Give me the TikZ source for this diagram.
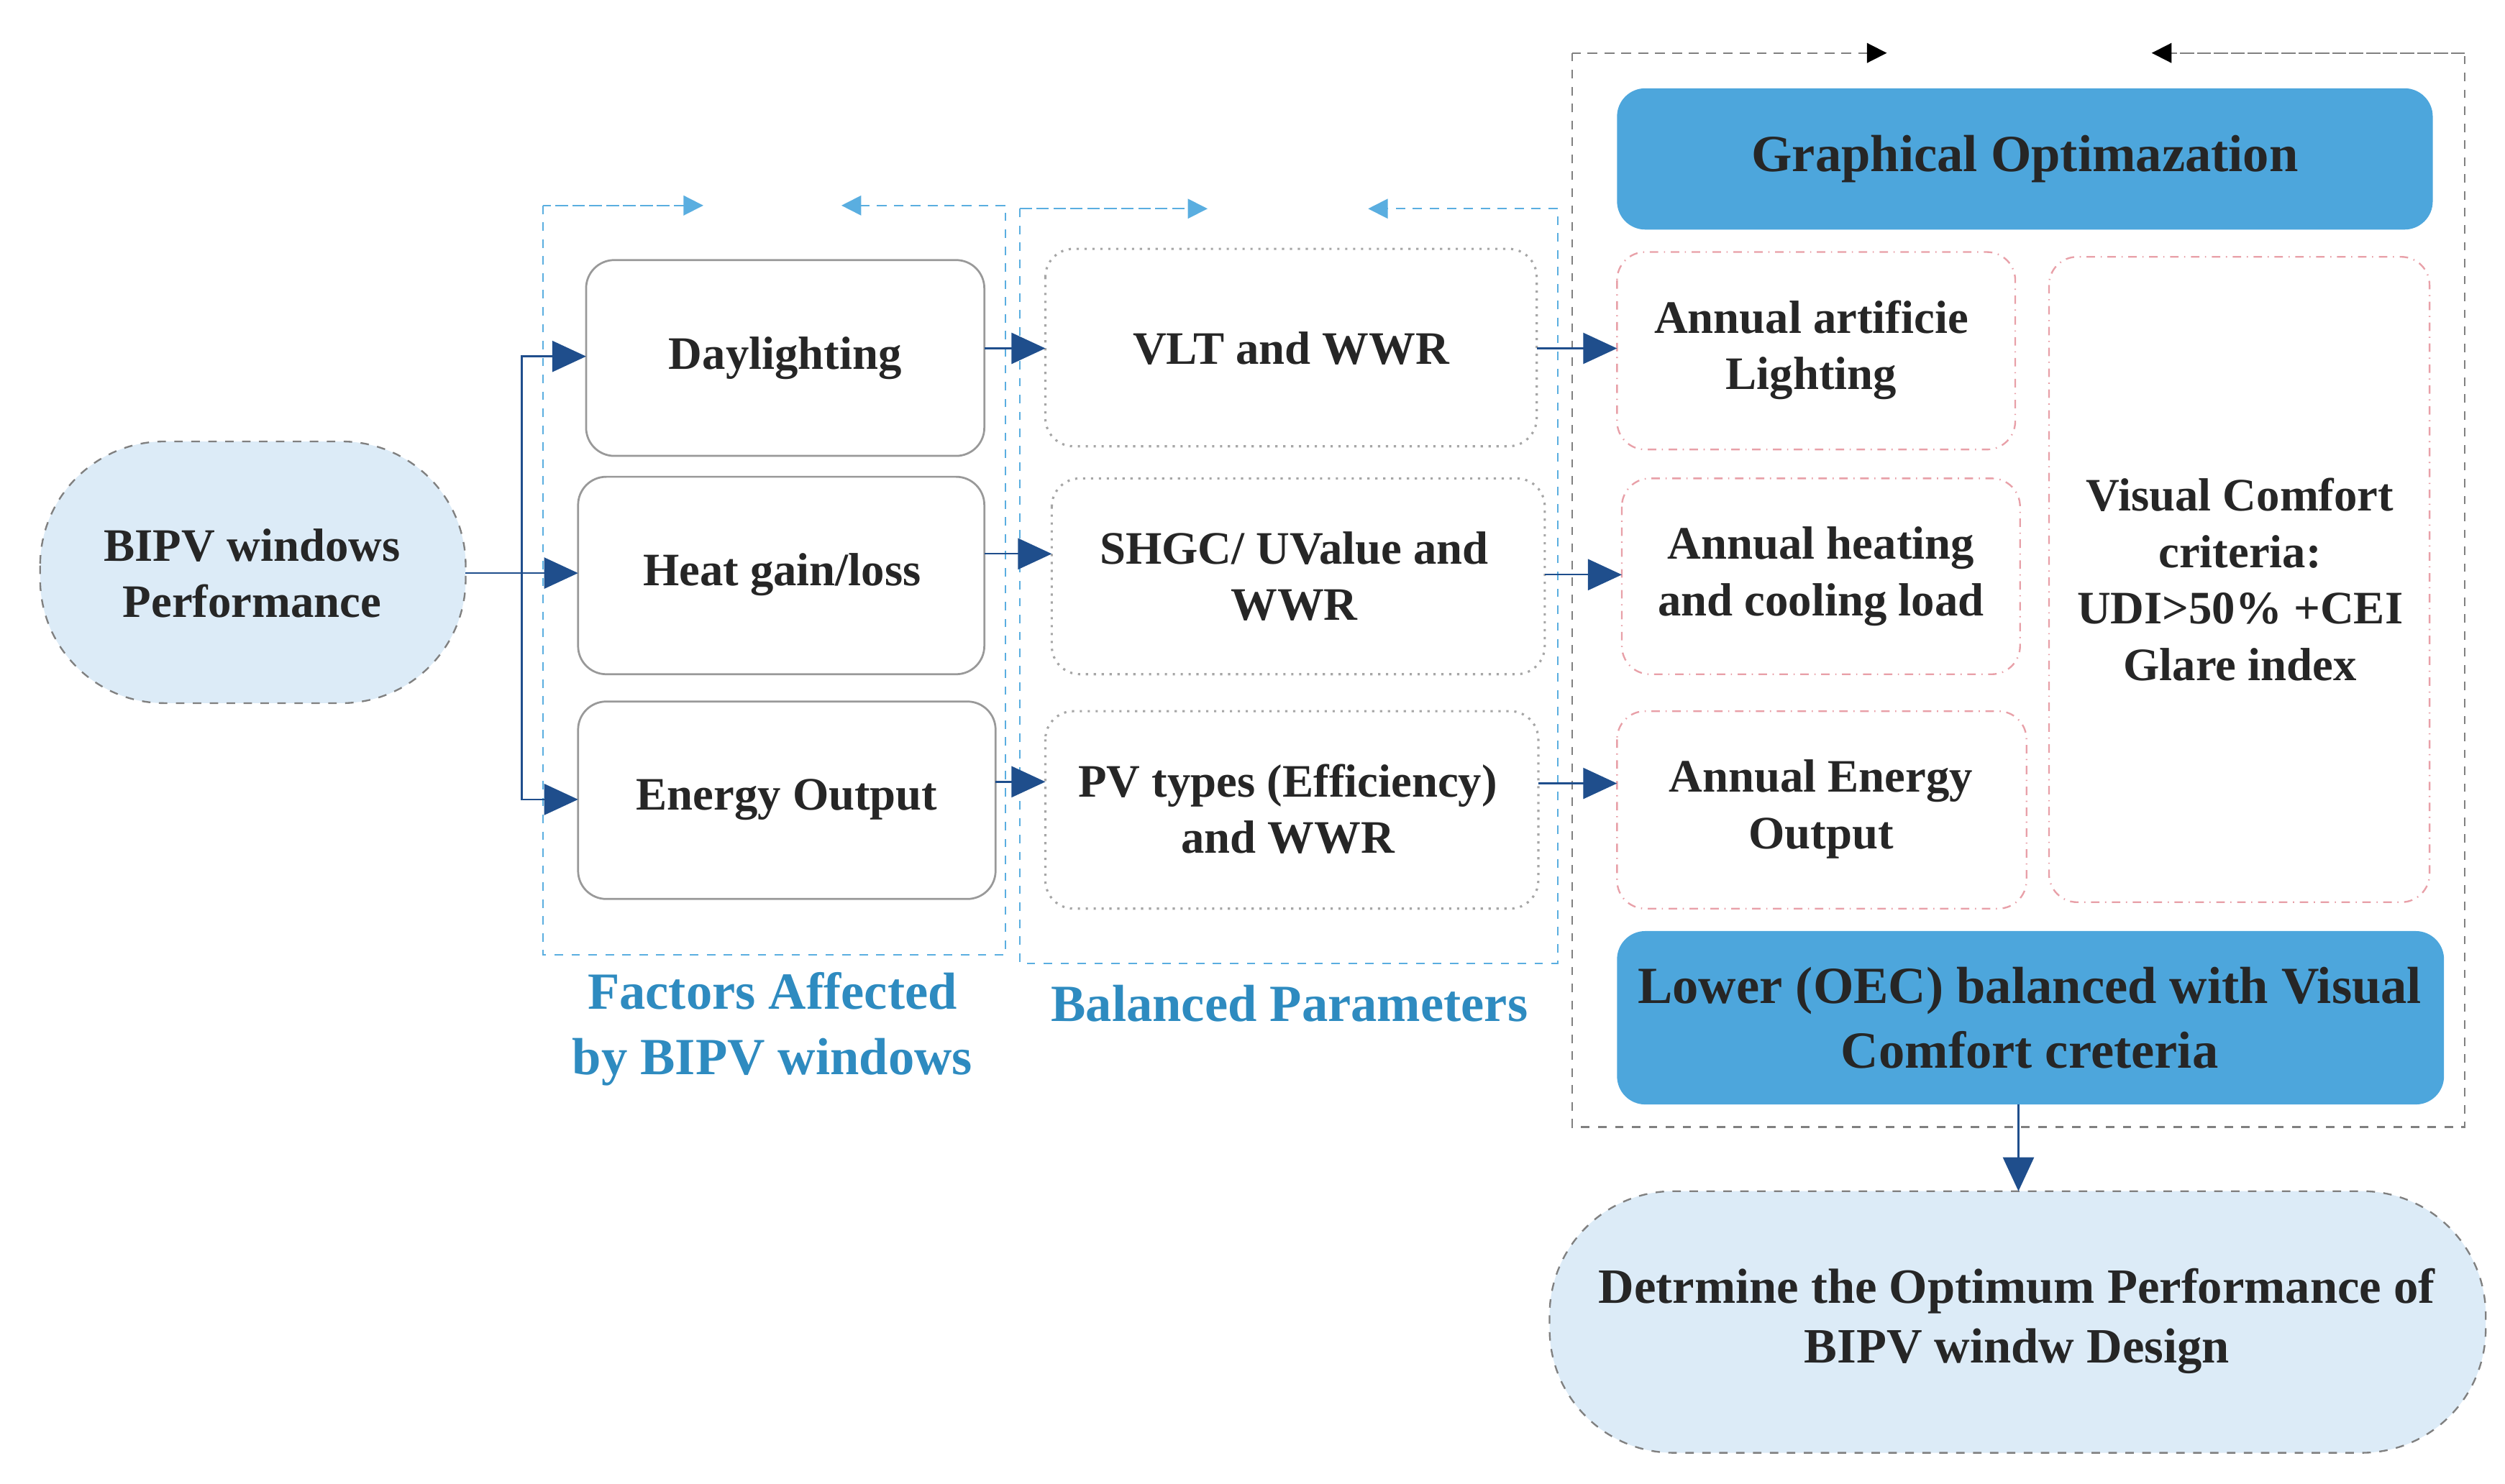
\documentclass[tikz,border=0pt]{standalone}
\usepackage{fontspec}
\setmainfont{Liberation Serif}
\usetikzlibrary{arrows.meta}
\definecolor{lb}{HTML}{DCEBF7}
\definecolor{bf}{HTML}{4DA6DC}
\definecolor{ab}{HTML}{1F4E8C}
\definecolor{lbl}{HTML}{2E8BC0}
\definecolor{dl}{HTML}{5AAEE0}
\definecolor{rd}{HTML}{E8A0A8}
\begin{document}
\begin{tikzpicture}[x=0.02cm,y=-0.02cm,
  txt/.style={font=\fontsize{16.5}{20}\selectfont\bfseries, text=black!85, align=center},
  box/.style={draw=gray!80, rounded corners=10pt, line width=0.7pt},
  dot/.style={draw=gray!70, dotted, rounded corners=10pt, line width=0.8pt},
  red/.style={draw=rd, dash dot, rounded corners=10pt, line width=0.6pt},
  blue/.style={fill=bf, rounded corners=10pt},
  stad/.style={fill=lb, draw=gray, dashed, rounded corners=44pt, line width=0.6pt},
  grp/.style={draw=dl, dashed, line width=0.5pt},
  arr/.style={-{Triangle[length=12pt,width=11pt]}, draw=ab, line width=0.6pt},
  tarr/.style={-{Triangle[length=7pt,width=7pt]}, dashed, line width=0.5pt},
  lab/.style={font=\fontsize{18.5}{23}\selectfont\bfseries, text=lbl, align=center}]
\useasboundingbox (0,0) rectangle (1560,924);
% groups
\draw[grp] (338,128) rectangle (626,595);
\draw[grp] (635,130) rectangle (970,600);
\draw[draw=gray, dashed, line width=0.6pt] (979,33) rectangle (1535,702);
\fill[white] (432,120) rectangle (526,136);
\fill[white] (750,122) rectangle (856,138);
\fill[white] (1172,25) rectangle (1343,41);
\coordinate (t1a) at (338,128); \coordinate (t1b) at (438,128);
\coordinate (t1c) at (626,128); \coordinate (t1d) at (524,128);
\draw[tarr, draw=dl] (t1a) -- (t1b);
\draw[tarr, draw=dl] (t1c) -- (t1d);
\coordinate (t2a) at (635,130); \coordinate (t2b) at (752,130);
\coordinate (t2c) at (970,130); \coordinate (t2d) at (852,130);
\draw[tarr, draw=dl] (t2a) -- (t2b);
\draw[tarr, draw=dl] (t2c) -- (t2d);
\coordinate (t3a) at (979,33); \coordinate (t3b) at (1175,33);
\coordinate (t3c) at (1535,33); \coordinate (t3d) at (1340,33);
\draw[tarr, draw=gray, -{Triangle[length=7pt,width=7pt,fill=black,color=black]}] (t3a) -- (t3b);
\draw[tarr, draw=gray, -{Triangle[length=7pt,width=7pt,fill=black,color=black]}] (t3c) -- (t3d);
% nodes
\draw[stad] (25,275) rectangle (290,438);
\node[txt] (bipv) at (157,357) {BIPV windows\\Performance};
\coordinate (bipvE) at (290,357);
\draw[box] (365,162) rectangle (613,284); \node[txt] (day) at (489,223) {Daylighting};
\draw[box] (360,297) rectangle (613,420); \node[txt] (heat) at (487,358) {Heat gain/loss};
\draw[box] (360,437) rectangle (620,560); \node[txt] (en) at (490,498) {Energy Output};
\coordinate (dayW) at (365,222); \coordinate (heatW) at (360,357); \coordinate (enW) at (360,498);
\coordinate (dayE) at (613,217); \coordinate (heatE) at (613,345); \coordinate (enE) at (620,487);
\draw[dot] (651,155) rectangle (957,278); \node[txt] (vlt) at (804,217) {VLT and WWR};
\draw[dot] (655,298) rectangle (962,420); \node[txt] (shgc) at (806,359) {SHGC/ UValue and\\WWR};
\draw[dot] (651,443) rectangle (958,566); \node[txt] (pv) at (802,504) {PV types (Efficiency)\\and WWR};
\coordinate (vltW) at (651,217); \coordinate (shgcW) at (655,345); \coordinate (pvW) at (651,487);
\coordinate (vltE) at (957,217); \coordinate (shgcE) at (962,358); \coordinate (pvE) at (958,488);
\fill[blue] (1007,55) rectangle (1515,143);
\node[txt, font=\fontsize{18.5}{22}\selectfont\bfseries] (go) at (1261,99) {Graphical Optimazation};
\draw[red] (1007,157) rectangle (1255,280); \node[txt] (aal) at (1128,218) {Annual artificie\\Lighting};
\draw[red] (1010,298) rectangle (1258,420); \node[txt] (ahc) at (1134,359) {Annual heating\\and cooling load};
\draw[red] (1007,443) rectangle (1262,566); \node[txt] (aeo) at (1134,504) {Annual Energy\\Output};
\draw[red] (1276,160) rectangle (1513,562); \node[txt] (vc) at (1395,361) {Visual Comfort\\criteria:\\UDI>50\% +CEI\\Glare index};
\coordinate (aalW) at (1007,217); \coordinate (ahcW) at (1010,358); \coordinate (aeoW) at (1007,488);
\fill[blue] (1007,580) rectangle (1522,688);
\node[txt, font=\fontsize{18.5}{23}\selectfont\bfseries] (low) at (1264,634) {Lower (OEC) balanced with Visual\\Comfort creteria};
\coordinate (lowS) at (1257,688);
\draw[stad] (965,742) rectangle (1548,905);
\node[txt, font=\fontsize{17.5}{21}\selectfont\bfseries] (det) at (1256,823) {Detrmine the Optimum Performance of\\BIPV windw Design};
\coordinate (detN) at (1257,742);
% labels
\node[lab] at (481,641) {Factors Affected\\by BIPV windows};
\node[lab] at (803,625) {Balanced Parameters};
% connectors
\coordinate (j) at (325,357);
\draw[draw=ab, line width=0.6pt] (bipvE) -- (j);
\draw[arr] (j) |- (dayW);
\draw[arr] (j) -- (heatW);
\draw[arr] (j) |- (enW);
\draw[arr] (dayE) -- (vltW);
\draw[arr] (heatE) -- (shgcW);
\draw[arr] (enE) -- (pvW);
\draw[arr] (vltE) -- (aalW);
\draw[arr] (shgcE) -- (ahcW);
\draw[arr] (pvE) -- (aeoW);
\draw[arr] (lowS) -- (detN);
\end{tikzpicture}
\end{document}
